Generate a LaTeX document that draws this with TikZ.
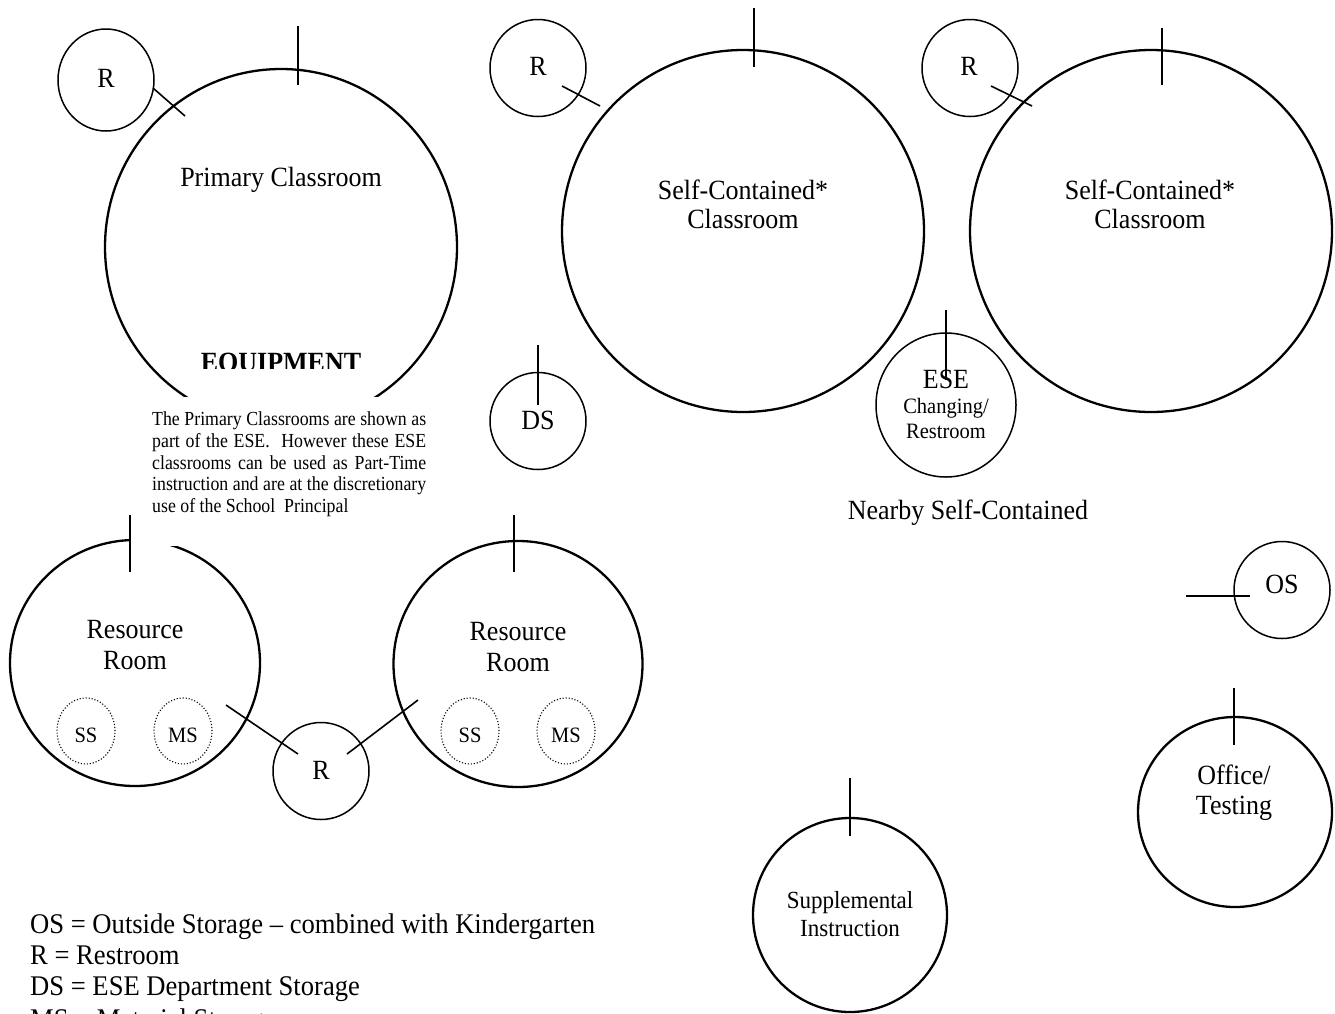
\documentclass[tikz,border=0pt]{standalone}
\usepackage{fontspec}
\setmainfont{Liberation Serif}
\usetikzlibrary{shapes.geometric}
\newcommand{\vst}[1]{\scalebox{1}[1.07]{#1}}
\newcommand{\vnote}[1]{\scalebox{1}[1.12]{#1}}
\begin{document}
\begin{tikzpicture}[x=1pt,y=-1pt,
  room/.style={ellipse, draw, line width=2.3pt, inner sep=0pt},
  smallroom/.style={ellipse, draw, line width=1.5pt, inner sep=0pt},
  storebox/.style={ellipse, draw, line width=1.1pt, dash pattern=on 1.1pt off 1.9pt, inner sep=0pt, minimum width=58pt, minimum height=66pt},
  stub/.style={line width=1.6pt},
  lbl/.style={anchor=base, inner sep=0pt, font=\fontsize{26}{30}\selectfont},
  midlbl/.style={anchor=base, inner sep=0pt, font=\fontsize{23}{28}\selectfont},
  sml/.style={anchor=base, inner sep=0pt, font=\fontsize{20.5}{24}\selectfont},
  notelbl/.style={anchor=base west, inner sep=0pt, font=\fontsize{17.8}{21}\selectfont},
  legend/.style={anchor=base west, inner sep=0pt, font=\fontsize{26.6}{31}\selectfont}
]
\clip (0,0) rectangle (1335,1013);
\fill[white] (0,0) rectangle (1335,1013);

% rooms
\node[smallroom, minimum width=96pt, minimum height=102pt] (r1) at (106,80) {};
\node[room, minimum width=352pt, minimum height=356pt] (pc) at (281,247) {};
\node[room, minimum width=362pt, minimum height=362pt] (sc1) at (743,231) {};
\node[smallroom, minimum width=96pt, minimum height=97pt] (r2) at (538,68) {};
\node[room, minimum width=362pt, minimum height=362pt] (sc2) at (1151,231) {};
\node[smallroom, minimum width=96pt, minimum height=97pt] (r3) at (970,68) {};
\node[smallroom, minimum width=96pt, minimum height=97pt] (ds) at (538,421) {};
\node[smallroom, minimum width=140pt, minimum height=144pt] (ese) at (946,405) {};
\node[room, minimum width=250pt, minimum height=246pt] (rrl) at (135,663) {};
\node[room, minimum width=249pt, minimum height=246pt] (rrr) at (518,664) {};
\node[smallroom, minimum width=96pt, minimum height=97pt] (rb) at (321,771) {};
\node[storebox] (ssl) at (86,731) {};
\node[storebox] (msl) at (183,731) {};
\node[storebox] (ssr) at (470,731) {};
\node[storebox] (msr) at (566,731) {};
\node[smallroom, minimum width=96pt, minimum height=97pt] (os) at (1282,590) {};
\node[room, minimum width=194pt, minimum height=190pt] (off) at (1235,812) {};
\node[room, minimum width=194pt, minimum height=194pt] (sup) at (850,915) {};

% clipped EQUIPMENT text
\begin{scope}
  \clip (150,330) rectangle (420,368);
  \node[anchor=base, inner sep=0pt, font=\fontsize{26}{30}\selectfont\bfseries] (equip) at (281,371) {\vst{EQUIPMENT}};
\end{scope}

% note box
\fill[white] (131,397) rectangle (440,546);
\node[notelbl] (n1) at (152,425) {\vnote{\makebox[274pt][s]{The Primary Classrooms are shown as}}};
\node[notelbl] (n2) at (152,447) {\vnote{\makebox[274pt][s]{part of the ESE.\ \ However these ESE}}};
\node[notelbl] (n3) at (152,469) {\vnote{\makebox[274pt][s]{classrooms can be used as Part-Time}}};
\node[notelbl] (n4) at (152,490.5) {\vnote{\makebox[274pt][s]{instruction and are at the discretionary}}};
\node[notelbl] (n5) at (152,512) {\vnote{use of the School\ \ Principal}};

% door stubs and links
\coordinate (pcA) at (298,26);  \coordinate (pcB) at (298,85);
\coordinate (sc1A) at (754,8);  \coordinate (sc1B) at (754,67);
\coordinate (sc2A) at (1162,28); \coordinate (sc2B) at (1162,85);
\coordinate (dsA) at (538,345); \coordinate (dsB) at (538,405);
\coordinate (eseA) at (946,310); \coordinate (eseB) at (946,380);
\coordinate (rrlA) at (130,515); \coordinate (rrlB) at (130,572);
\coordinate (rrrA) at (514,515); \coordinate (rrrB) at (514,572);
\coordinate (osA) at (1186,596); \coordinate (osB) at (1250,596);
\coordinate (offA) at (1234,688); \coordinate (offB) at (1234,745);
\coordinate (supA) at (850,778); \coordinate (supB) at (850,836);
\coordinate (r1A) at (153,88);  \coordinate (r1B) at (185,116);
\coordinate (r2A) at (562,86);  \coordinate (r2B) at (600,106);
\coordinate (r3A) at (991,86);  \coordinate (r3B) at (1032,106);
\coordinate (rbA) at (226,705); \coordinate (rbB) at (298,754);
\coordinate (rbC) at (347,754); \coordinate (rbD) at (418,700);
\foreach \a/\b in {pcA/pcB, sc1A/sc1B, sc2A/sc2B, dsA/dsB, eseA/eseB, rrlA/rrlB, rrrA/rrrB, osA/osB, offA/offB, supA/supB, r1A/r1B, r2A/r2B, r3A/r3B, rbA/rbB, rbC/rbD}
  \draw[stub] (\a) -- (\b);

% labels
\node[lbl] (r1l) at (106,87) {\vst{R}};
\node[lbl] (pcl) at (281,186) {\vst{Primary Classroom}};
\node[lbl] (r2l) at (538,75) {\vst{R}};
\node[lbl] (r3l) at (969,75) {\vst{R}};
\node[lbl] (sc1l) at (743,199) {\vst{Self-Contained*}};
\node[lbl] (sc1m) at (743,228) {\vst{Classroom}};
\node[lbl] (sc2l) at (1150,199) {\vst{Self-Contained*}};
\node[lbl] (sc2m) at (1150,228) {\vst{Classroom}};
\node[lbl] (dsl) at (538,429) {\vst{DS}};
\node[lbl] (esel) at (946,388) {\vst{ESE}};
\node[sml] (esem) at (946,413) {\vst{Changing/}};
\node[sml] (esen) at (946,438) {\vst{Restroom}};
\node[lbl] (nearby) at (968,519) {\vst{Nearby Self-Contained}};
\node[lbl] (rrl1) at (135,638) {\vst{Resource}};
\node[lbl] (rrl2) at (135,669) {\vst{Room}};
\node[lbl] (rrr1) at (518,640) {\vst{Resource}};
\node[lbl] (rrr2) at (518,671) {\vst{Room}};
\node[sml] (ssll) at (86,742) {\vst{SS}};
\node[sml] (msll) at (183,742) {\vst{MS}};
\node[sml] (ssrl) at (470,742) {\vst{SS}};
\node[sml] (msrl) at (566,742) {\vst{MS}};
\node[lbl] (rbl) at (321,779) {\vst{R}};
\node[lbl] (osl) at (1282,593) {\vst{OS}};
\node[lbl] (offl1) at (1234,784) {\vst{Office/}};
\node[lbl] (offl2) at (1234,814) {\vst{Testing}};
\node[midlbl] (supl1) at (850,908) {\vst{Supplemental}};
\node[midlbl] (supl2) at (850,936) {\vst{Instruction}};

% legend
\node[legend] (lg1) at (30,933) {\vst{OS = Outside Storage -- combined with Kindergarten}};
\node[legend] (lg2) at (30,964) {\vst{R = Restroom}};
\node[legend] (lg3) at (30,995) {\vst{DS = ESE Department Storage}};
\node[legend] (lg4) at (30,1028) {\vst{MS = Material Storage}};
\end{tikzpicture}
\end{document}
